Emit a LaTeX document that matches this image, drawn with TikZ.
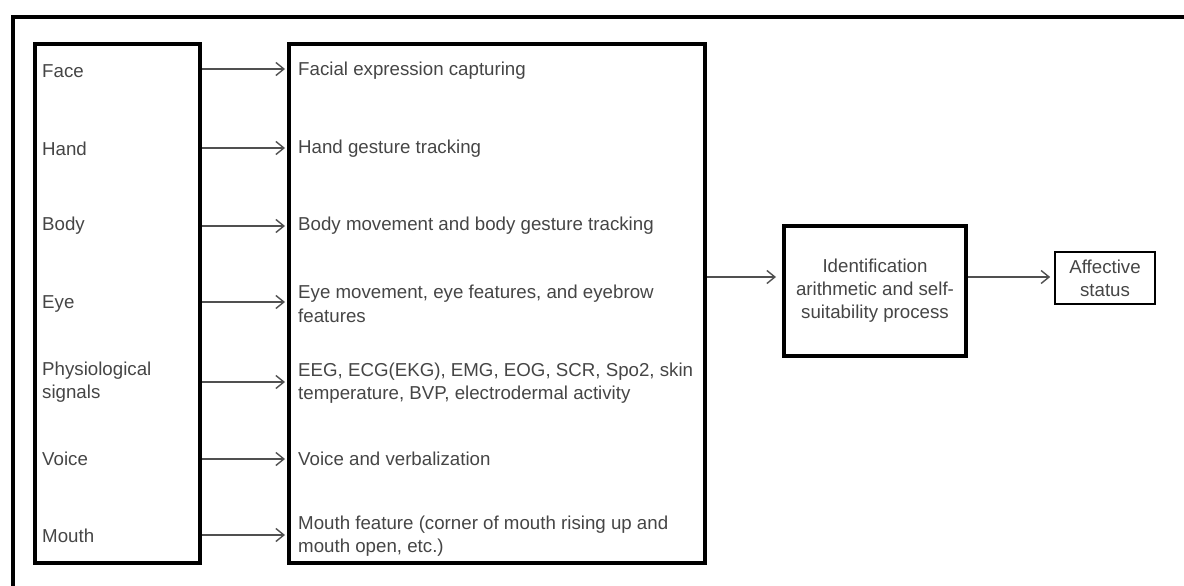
\documentclass[tikz,border=0pt]{standalone}
\usepackage{fontspec}
\setmainfont{Liberation Sans}
\usetikzlibrary{arrows.meta}
\definecolor{txt}{HTML}{454545}
\definecolor{arr}{HTML}{505050}
\tikzset{
  frame/.style={draw=black, line width=4pt, inner sep=0pt},
  item/.style={anchor=west, inner sep=0pt, text=txt, align=left,
    font=\fontsize{18.7}{23.5}\selectfont},
  ctext/.style={inner sep=0pt, text=txt, align=center,
    font=\fontsize{18.7}{23}\selectfont},
  link/.style={draw=arr, line width=1.4pt,
    -{Straight Barb[length=8pt,width=13pt,line width=1.4pt]}},
}
\begin{document}
\begin{tikzpicture}[x=1pt,y=-1pt]
\useasboundingbox (0,0) rectangle (1184,586);
% outer frame, running off the page at right and bottom
\draw[line width=4pt] (13,600) -- (13,17) -- (1200,17);

% input box and processing box
\node[frame, minimum width=165pt, minimum height=518pt] (lb) at (117.5,303.5) {};
\node[frame, minimum width=416pt, minimum height=518pt] (mb) at (497,303.5) {};

% sources
\node[item] (s1) at (42,71)  {Face};
\node[item] (s2) at (42,149) {Hand};
\node[item] (s3) at (42,226) {Body};
\node[item] (s4) at (42,304) {Eye};
\node[item] (s5) at (42,382) {Physiological\\signals};
\node[item] (s6) at (42,459) {Voice};
\node[item] (s7) at (42,536) {Mouth};

% captured features
\node[item] (m1) at (298,71)  {Facial expression capturing};
\node[item] (m2) at (298,149) {Hand gesture tracking};
\node[item] (m3) at (298,226) {Body movement and body gesture tracking};
\node[item] (m4) at (298,304) {Eye movement, eye features, and eyebrow\\features};
\node[item] (m5) at (298,383) {EEG, ECG(EKG), EMG, EOG, SCR, Spo2, skin\\temperature, BVP, electrodermal activity};
\node[item] (m6) at (298,459) {Voice and verbalization};
\node[item] (m7) at (298,536) {Mouth feature (corner of mouth rising up and\\mouth open, etc.)};

\foreach \i/\y in {1/69,2/148,3/226,4/302,5/382,6/459,7/535}{
  \coordinate (a\i) at (0,\y);
  \draw[link] (lb.east |- a\i) -- ([xshift=-2pt]mb.west |- a\i);
}

% identification stage and output
\node[frame, minimum width=182pt, minimum height=130pt] (id) at (875,291) {};
\node[ctext] (idt) at (id.center) {Identification\\arithmetic and self-\\suitability process};
\node[draw=black, line width=1.6pt, inner sep=0pt, minimum width=100pt, minimum height=52pt] (af) at (1105,278) {};
\node[ctext] (aft) at (af.center) {Affective\\status};

\coordinate (lv) at (0,277);
\draw[link] (mb.east |- lv) -- ([xshift=-6pt]id.west |- lv);
\draw[link] (id.east |- lv) -- ([xshift=-4pt]af.west |- lv);
\end{tikzpicture}
\end{document}
